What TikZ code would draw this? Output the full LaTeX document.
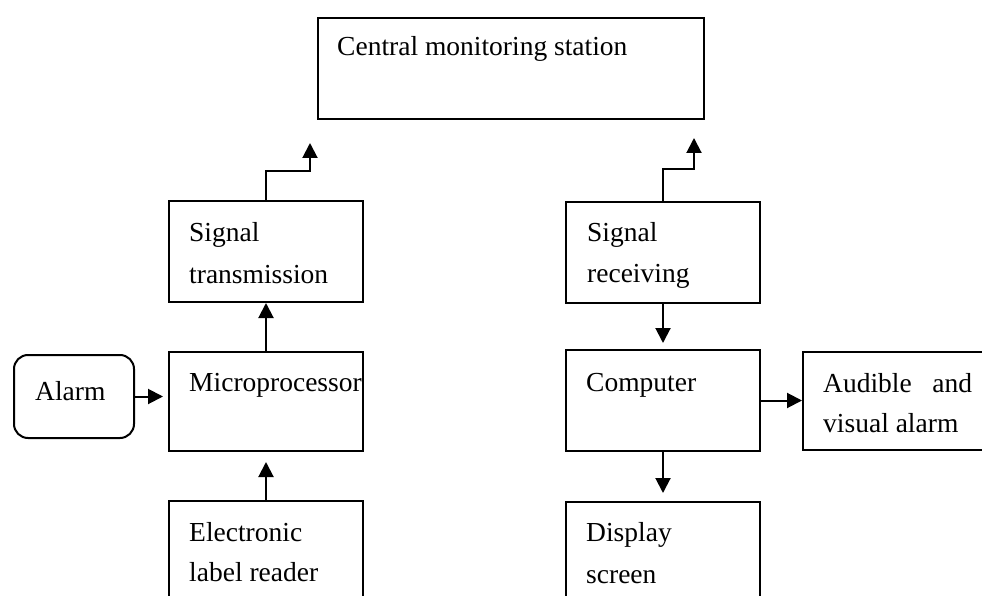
\documentclass[tikz,border=0pt]{standalone}
\usepackage{fontspec}
\setmainfont{Liberation Serif}
\usetikzlibrary{arrows.meta}
\tikzset{
  x=1pt, y=-1pt,
  box/.style={draw, line width=2pt, rectangle, anchor=north west, inner sep=0pt},
  txt/.style={anchor=base west, inner sep=0pt, font=\fontsize{27.5}{42}\selectfont},
  arr/.style={line width=2pt, -{Triangle[length=15pt,width=15pt]}},
}
\begin{document}
\begin{tikzpicture}
\useasboundingbox (0,0) rectangle (982,596);
\clip (0,0) rectangle (982,596);
\fill[white] (0,0) rectangle (982,596);
% boxes
\node[box, minimum width=386pt, minimum height=101pt] (central) at (317,17) {};
\node[box, minimum width=194pt, minimum height=101pt] (trans) at (168,200) {};
\node[box, minimum width=194pt, minimum height=99pt] (micro) at (168,351) {};
\node[box, minimum width=194pt, minimum height=140pt] (elec) at (168,500) {};
\node[box, rounded corners=14pt, minimum width=120pt, minimum height=83pt] (alarm) at (13,354) {};
\node[box, minimum width=194pt, minimum height=101pt] (recv) at (565,201) {};
\node[box, minimum width=194pt, minimum height=101pt] (comp) at (565,349) {};
\node[box, minimum width=194pt, minimum height=140pt] (disp) at (565,501) {};
\node[box, minimum width=220pt, minimum height=98pt] (aud) at (802,351) {};
% texts
\node[txt] (tcentral) at (337,56) {Central monitoring station};
\node[txt] (ttrans1) at (189,241) {Signal};
\node[txt] (ttrans2) at (189,283) {transmission};
\node[txt] (tmicro) at (189,391) {Microprocessor};
\node[txt] (telec1) at (189,541) {Electronic};
\node[txt] (telec2) at (189,581) {label reader};
\node[txt] (talarm) at (35,400) {Alarm};
\node[txt] (trecv1) at (587,241) {Signal};
\node[txt] (trecv2) at (587,282) {receiving};
\node[txt] (tcomp) at (586,391) {Computer};
\node[txt] (tdisp1) at (586,541) {Display};
\node[txt] (tdisp2) at (586,583) {screen};
\node[txt] (taud1) at (823,392) {\makebox[149pt][s]{Audible and}};
\node[txt] (taud2) at (823,432) {visual alarm};
% connectors
\draw[arr] (trans.north) -- ++(0,-29) -- ++(44,0) -- ++(0,-28);
\draw[arr] (recv.north) -- ++(0,-32) -- ++(31,0) -- ++(0,-31);
\draw[arr] (micro.north) -- (trans.south);
\draw[arr, shorten >=10pt] (elec.north) -- (micro.south);
\draw[arr, shorten >=5pt] (alarm.east) -- (alarm.east -| micro.west);
\draw[arr, shorten >=6pt] (recv.south) -- (comp.north);
\draw[arr, shorten >=8pt] (comp.south) -- (disp.north);
\draw[arr] (comp.east) -- (comp.east -| aud.west);
\end{tikzpicture}
\end{document}
